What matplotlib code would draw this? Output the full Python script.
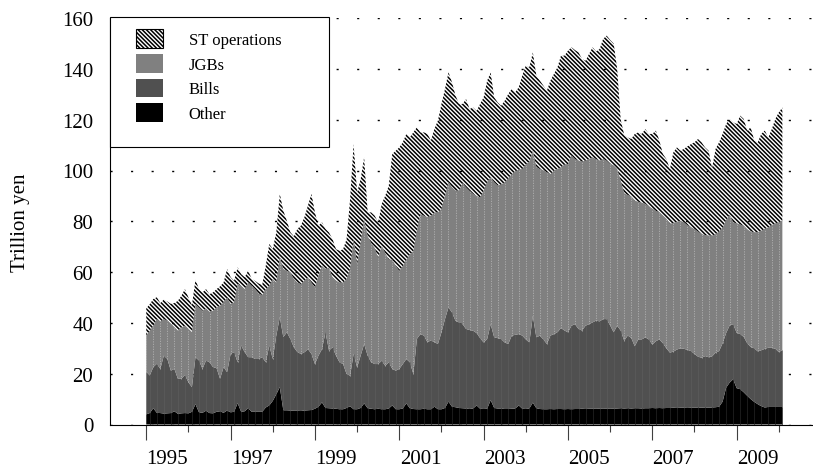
import numpy as np
import matplotlib
matplotlib.use('Agg')
import matplotlib.pyplot as plt
import matplotlib.transforms as mtransforms
from matplotlib.patches import Patch, Rectangle

plt.rcParams['font.family'] = ['Liberation Serif', 'DejaVu Serif']
plt.rcParams['hatch.linewidth'] = 1.1

# monthly data from Jan 1995, trillion yen; values are the top of each stacked band
start_year = 1995

other_top = [
    4.0, 4.5, 6.4, 4.6, 4.5, 4.3, 4.4, 4.5, 5.2, 4.2, 4.4, 4.5,
    4.4, 5.0, 8.0, 4.8, 4.6, 5.4, 4.5, 4.4, 5.0, 5.2, 4.6, 5.5,
    4.8, 5.0, 8.4, 5.0, 5.2, 6.4, 5.0, 5.0, 5.0, 5.0, 6.7, 7.5,
    9.3, 11.9, 14.7, 5.6, 5.6, 5.5, 5.4, 5.4, 5.3, 5.5, 5.6, 5.7,
    6.2, 7.0, 8.7, 6.5, 6.4, 6.3, 6.2, 6.0, 6.0, 6.5, 7.2, 6.0,
    6.0, 6.5, 8.3, 6.4, 6.2, 6.0, 6.2, 6.0, 6.0, 6.3, 7.5, 6.0,
    6.0, 6.3, 8.3, 6.4, 6.1, 6.0, 6.0, 6.2, 6.0, 6.0, 7.0, 6.0,
    6.0, 6.5, 9.0, 7.0, 6.8, 6.5, 6.4, 6.3, 6.1, 6.3, 7.5, 6.2,
    6.1, 6.2, 9.6, 6.5, 6.3, 6.3, 6.1, 6.1, 6.2, 6.3, 7.5, 6.2,
    6.1, 6.3, 8.6, 6.4, 6.1, 6.0, 6.0, 6.1, 6.0, 6.1, 6.1, 6.0,
    6.1, 6.0, 6.1, 6.1, 6.2, 6.1, 6.2, 6.2, 6.3, 6.2, 6.3, 6.2,
    6.3, 6.2, 6.3, 6.4, 6.3, 6.4, 6.3, 6.4, 6.4, 6.3, 6.4, 6.4,
    6.5, 6.4, 6.5, 6.4, 6.5, 6.5, 6.6, 6.5, 6.6, 6.6, 6.5, 6.6,
    6.6, 6.7, 6.6, 6.7, 6.6, 6.7, 6.8, 7.0, 9.0, 14.5, 16.5, 17.8,
    14.3, 13.9, 12.7, 11.3, 10.0, 8.9, 8.0, 7.2, 6.7, 6.9, 6.9, 6.9,
    6.9, 6.9,
]

bills_top = [
    20.8, 19.3, 22.6, 23.9, 21.9, 27.1, 25.8, 21.2, 21.9, 18.0, 18.0, 19.5,
    16.6, 14.7, 26.5, 25.2, 21.9, 25.2, 24.5, 22.6, 22.2, 18.0, 22.6, 20.6,
    27.8, 28.5, 24.5, 31.1, 28.5, 26.5, 26.5, 25.8, 25.8, 26.5, 24.5, 31.1,
    25.8, 35.0, 42.3, 34.4, 36.3, 33.7, 30.4, 28.5, 27.8, 28.4, 29.7, 27.8,
    23.8, 27.1, 29.7, 36.3, 29.1, 30.4, 27.1, 24.5, 23.8, 19.9, 19.2, 27.8,
    22.5, 27.1, 31.7, 27.1, 24.5, 23.8, 23.8, 25.1, 23.1, 24.5, 21.9, 21.2,
    21.9, 23.8, 25.8, 24.5, 19.9, 33.7, 35.6, 35.0, 32.4, 33.1, 32.4, 31.7,
    36.3, 41.5, 46.1, 44.1, 40.8, 40.2, 39.5, 37.6, 37.2, 36.9, 36.0, 34.0,
    32.3, 33.6, 39.5, 34.3, 34.0, 33.6, 32.3, 31.7, 35.0, 35.3, 35.6, 35.0,
    33.5, 32.3, 42.8, 34.3, 35.0, 33.5, 31.7, 35.0, 35.6, 36.3, 38.0, 37.0,
    36.3, 38.9, 39.5, 37.6, 37.0, 38.9, 39.5, 40.2, 40.9, 40.6, 41.5, 41.5,
    39.0, 36.3, 38.9, 37.0, 33.0, 35.0, 34.1, 30.8, 33.5, 33.5, 34.3, 33.5,
    31.5, 32.8, 33.5, 32.0, 30.0, 28.3, 28.7, 29.5, 30.0, 29.8, 29.4, 28.9,
    27.8, 26.7, 26.3, 26.9, 26.5, 26.8, 28.3, 28.9, 32.0, 36.0, 39.0, 39.5,
    36.1, 35.6, 34.5, 32.0, 30.5, 30.0, 28.8, 29.2, 29.8, 30.2, 30.2, 29.8,
    28.5, 29.3,
]

jgbs_top = [
    35.0, 36.9, 38.9, 41.5, 40.5, 41.5, 40.9, 39.5, 38.2, 36.9, 38.2, 38.9,
    37.6, 36.3, 47.4, 46.1, 44.8, 45.7, 44.4, 44.8, 46.1, 46.7, 48.1, 50.0,
    47.4, 48.1, 55.3, 54.6, 53.3, 55.9, 54.6, 53.3, 51.5, 51.0, 53.3, 54.6,
    57.3, 55.9, 65.8, 61.2, 60.5, 59.9, 57.3, 55.9, 55.3, 56.6, 57.9, 55.9,
    54.0, 58.6, 62.4, 61.2, 61.8, 57.9, 56.6, 55.9, 55.9, 57.2, 61.2, 72.9,
    63.0, 71.5, 80.7, 74.1, 71.5, 69.5, 65.6, 70.2, 67.5, 64.9, 64.9, 62.4,
    60.5, 62.4, 64.9, 66.9, 68.2, 76.3, 82.9, 82.2, 81.6, 82.2, 83.5, 83.5,
    84.9, 90.1, 95.4, 93.4, 92.1, 92.1, 95.0, 93.4, 92.0, 90.8, 90.0, 89.4,
    92.0, 95.5, 97.3, 95.4, 94.1, 94.5, 95.4, 97.0, 98.5, 99.7, 100.3, 100.6,
    102.4, 103.5, 107.8, 101.3, 100.6, 100.0, 99.3, 98.6, 100.0, 100.6, 101.3, 102.3,
    102.6, 105.9, 104.5, 103.9, 103.5, 103.9, 104.5, 105.2, 104.5, 103.9, 104.5, 103.9,
    102.6, 102.0, 100.6, 96.0, 91.0, 90.4, 89.8, 88.1, 87.7, 87.3, 86.9, 85.9,
    85.0, 84.1, 83.6, 82.3, 81.0, 79.0, 79.4, 79.8, 80.2, 79.6, 78.5, 77.7,
    76.9, 76.0, 75.0, 74.6, 74.4, 74.4, 74.9, 76.0, 77.5, 80.5, 82.6, 79.6,
    79.2, 78.8, 78.2, 76.8, 76.0, 75.7, 75.7, 76.3, 77.0, 77.6, 78.5, 79.2,
    79.6, 80.3,
]

st_top = [
    45.7, 47.4, 49.4, 50.1, 47.8, 49.2, 48.4, 47.5, 47.8, 48.7, 50.7, 53.3,
    50.0, 47.0, 57.0, 53.3, 52.0, 53.3, 51.3, 52.0, 53.3, 54.4, 55.9, 61.2,
    58.0, 56.6, 61.9, 59.2, 58.0, 60.6, 57.3, 56.5, 55.5, 55.0, 62.5, 71.1,
    69.1, 75.7, 90.8, 84.2, 80.2, 75.7, 74.1, 77.0, 78.3, 81.6, 86.2, 90.8,
    83.5, 78.3, 79.6, 77.0, 75.6, 73.0, 69.0, 68.4, 69.0, 73.0, 88.7, 110.4,
    91.4, 96.6, 105.2, 83.5, 83.5, 82.2, 79.6, 86.8, 90.1, 94.0, 106.5, 107.8,
    109.1, 111.1, 114.4, 113.1, 115.0, 117.0, 115.0, 115.0, 114.4, 111.8, 116.4, 119.7,
    126.2, 132.1, 138.7, 134.7, 129.5, 126.2, 126.2, 128.1, 124.2, 124.8, 123.5, 126.2,
    128.8, 135.4, 138.6, 128.8, 126.8, 125.5, 127.5, 130.1, 132.1, 130.8, 132.8, 137.4,
    141.3, 140.6, 146.5, 137.4, 135.4, 133.4, 131.4, 135.4, 138.0, 140.6, 145.2, 145.2,
    147.2, 148.5, 147.4, 146.5, 143.9, 143.2, 145.9, 148.5, 146.9, 147.8, 151.8, 153.1,
    151.4, 150.0, 140.0, 120.0, 114.0, 113.0, 112.4, 114.4, 115.0, 114.4, 116.3, 114.4,
    114.4, 115.7, 111.8, 106.5, 104.5, 100.6, 107.2, 109.1, 107.8, 108.5, 109.5, 110.4,
    111.1, 112.4, 111.1, 109.1, 107.8, 101.0, 108.5, 111.1, 114.4, 118.3, 120.3, 119.0,
    118.3, 121.6, 120.3, 115.7, 117.0, 111.8, 111.1, 114.4, 115.7, 113.0, 116.3, 120.3,
    122.9, 124.8,
]

series_labels = ['ST operations', 'JGBs', 'Bills', 'Other']
year_ticks = list(range(1995, 2010, 2))
year_labels = [str(y) for y in year_ticks]
minor_years = list(range(1996, 2011, 2))

other = np.array(other_top)
bills = np.array(bills_top)
jgbs = np.array(jgbs_top)
st = np.array(st_top)
x = start_year + np.arange(len(st)) / 12.0

W, H = 813, 477
fig = plt.figure(figsize=(W / 100, H / 100), dpi=100)
ax = fig.add_axes([110 / W, 1 - 425.5 / H, 1 - 110 / W, 406.4 / H])

hatch = '\\' * 8
ax.fill_between(x, 0, other, facecolor='black', lw=0, zorder=2)
ax.fill_between(x, other, bills, facecolor='#505050', lw=0, zorder=2)
ax.fill_between(x, bills, jgbs, facecolor='#808080', lw=0, zorder=2)
ax.fill_between(x, jgbs, st, facecolor='none', edgecolor='black', hatch=hatch, lw=0, zorder=2)

# seams of the excel-style fill
ax.vlines(x[::2], bills[::2], jgbs[::2], colors='#b0b0b0', linestyles=(0, (1.5, 1.5)), lw=0.6, zorder=3)
ax.vlines(x[1::2], other[1::2], bills[1::2], colors='#5c5c5c', lw=0.5, zorder=3)
ax.vlines(x[1::2], 0, other[1::2], colors='#262626', lw=0.5, zorder=3)

ax.set_xlim(1994.14, 2010.81)
ax.set_ylim(0, 160)
ax.set_yticks(range(0, 161, 20))
ax.yaxis.grid(True, color='black', linestyle=(0, (1.5, 13.3)), lw=1.0)
ax.set_axisbelow(True)

for s in ['top', 'right']:
    ax.spines[s].set_visible(False)
for s in ['left', 'bottom']:
    ax.spines[s].set_linewidth(0.8)
    ax.spines[s].set_color('black')

ax.tick_params(axis='y', length=0, pad=12, labelsize=15)
ax.set_xticks(year_ticks)
ax.set_xticklabels(year_labels)
ax.set_xticks(minor_years, minor=True)
ax.tick_params(axis='x', which='major', length=11, width=0.8, color='#404040', pad=7, labelsize=15)
ax.tick_params(axis='x', which='minor', length=5, width=0.8, color='#404040')

offset = mtransforms.ScaledTranslation(0.211, 0, fig.dpi_scale_trans)
for lab in ax.xaxis.get_majorticklabels():
    lab.set_transform(lab.get_transform() + offset)

ax.set_ylabel('Trillion yen', fontsize=15)
ax.yaxis.set_label_coords(-0.114, 0.5)

# legend box
frame = Rectangle((110 / W, 1 - 148 / H), 219 / W, 130 / H, transform=fig.transFigure,
                  facecolor='white', edgecolor='black', lw=0.8, zorder=10, clip_on=False)
ax.add_patch(frame)
handles = [Patch(facecolor='white', edgecolor='black', hatch=hatch, lw=0.8),
           Patch(facecolor='#808080', lw=0),
           Patch(facecolor='#505050', lw=0),
           Patch(facecolor='black', lw=0)]
leg = ax.legend(handles, series_labels, loc='upper left',
                bbox_to_anchor=(136 / W, 1 - 30.4 / H), bbox_transform=fig.transFigure,
                frameon=False, fontsize=12, handlelength=1.6, handleheight=1.35,
                handletextpad=1.55, labelspacing=0.34, borderpad=0, borderaxespad=0)
leg.set_zorder(11)

fig.savefig('out.png', dpi=100)
